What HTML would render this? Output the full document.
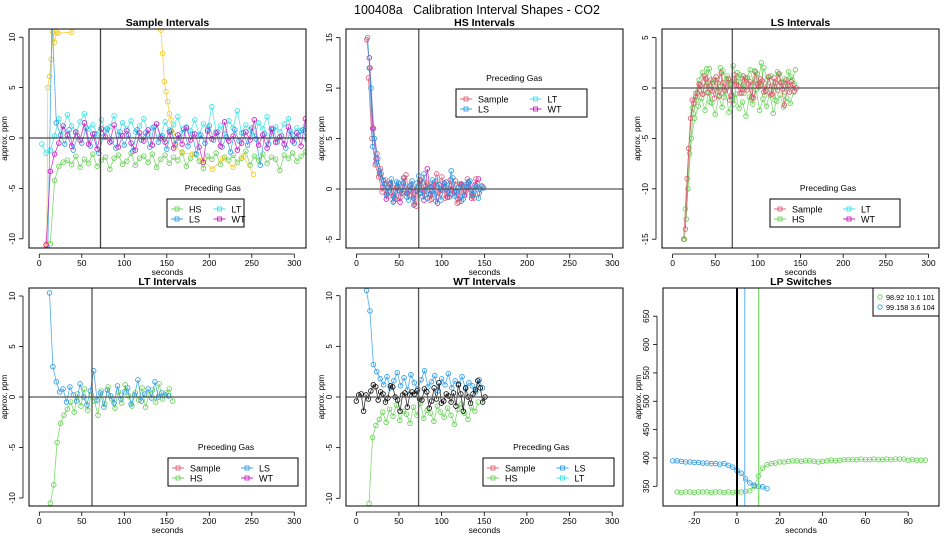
<!DOCTYPE html>
<html><head><meta charset="utf-8">
<style>
html,body{margin:0;padding:0;background:#fff;}
svg{display:block;font-family:"Liberation Sans",Arial,sans-serif;}
</style></head>
<body>
<svg id="chart" width="950" height="550" viewBox="0 0 950 550" xmlns="http://www.w3.org/2000/svg">
<text x="477" y="14" font-size="12.5" text-anchor="middle" style="white-space:pre">100408a   Calibration Interval Shapes - CO2</text>
</svg>
<script>
// ---------- data ----------
// Sample Intervals panel
const sHS_t0 = 13, sHS_step = 5;
const sHS = [-10.5,-4.2,-2.8,-2.4,-2.2,-2.6,-1.8,-2.9,-2.1,-2.5,-1.6,-2.8,-2.2,-1.9,-3.1,-2.0,-1.7,-2.6,-2.3,-1.5,-2.7,-2.0,-1.8,-2.4,-1.6,-2.9,-2.1,-1.7,-2.5,-1.9,-2.2,-1.4,-2.8,-2.0,-1.6,-2.3,-3.0,-1.8,-2.1,-1.5,-2.6,-1.9,-2.2,-1.7,-2.4,-2.0,-1.3,-2.7,-1.8,-2.2,-1.6,-2.5,-1.9,-2.1,-3.2,-1.7,-2.0,-1.5,-2.3,-1.8,-1.4];
const sLS_t0 = 10, sLS_step = 5;
const sLS = [-11,12,1.5,0.3,-0.6,0.8,-1.2,0.2,-0.5,1.0,-0.8,0.4,-1.5,0.1,0.9,-0.3,-1.0,0.6,-0.7,0.3,-1.3,0.8,-0.2,0.5,-0.9,1.1,-0.4,0.2,-1.1,0.7,-0.6,0.0,0.9,-0.8,0.4,-1.6,0.3,-0.5,1.2,-0.2,0.6,-0.9,0.1,-1.4,0.8,-0.3,0.5,-0.7,1.0,-0.1,-2.7,0.4,-0.6,0.9,-0.4,0.2,-1.0,0.7,-0.5,0.3,0.8,-0.2,0.6];
const sLT_t0 = 3, sLT_step = 5;
const sLT = [-0.6,-1.5,-1.2,0.2,1.9,0.8,2.3,1.2,0.5,1.6,2.4,0.9,1.3,0.4,1.8,0.7,1.1,2.2,0.3,1.5,0.9,1.7,0.6,1.2,1.9,0.4,1.0,1.4,0.2,1.6,0.8,1.3,2.1,0.5,1.1,0.7,1.8,0.3,1.4,0.9,3.1,0.6,1.2,0.4,1.7,1.0,2.7,0.5,1.3,0.8,0.2,1.5,0.9,2.1,0.4,1.1,0.6,1.4,1.9,0.3,1.0,0.7,1.2];
const sWT_t0 = 8, sWT_step = 5;
const sWT = [-10.6,-3.3,-1.6,-0.5,1.2,0.3,-0.8,0.6,-0.2,1.5,-0.6,0.4,-1.1,0.9,0.1,-0.4,1.3,-0.9,0.2,0.7,-0.5,-1.2,0.5,-0.3,0.8,-0.7,1.4,0.0,-0.4,0.6,-1.0,0.3,-0.6,1.0,-0.2,0.4,-0.9,-2.4,0.7,-0.1,0.5,-0.8,1.6,-0.3,0.2,-1.2,-0.5,0.6,-0.2,1.8,-0.7,0.3,-1.0,0.9,-0.4,0.1,-0.6,1.1,-0.3,0.5,-0.8,1.9];
const sSampleT = [7,9,10,12,14,16,18,20,22,38,50,130,143,145,147,149,151,153,155,157,160,168,180,192,204,216,228,240,252];
const sSampleV = [-11,-10.5,5,6.1,7.8,10.5,9.5,10.5,10.4,10.5,15,15,10.7,8.4,5.6,4.6,3.6,2.4,1.8,0.5,-0.8,-1.5,-1.6,-2.2,-3.1,-2.0,-2.9,-1.8,-3.6];
// HS Intervals panel
const hSample = [14.8,12,6,3.5,2,0.8,-0.5,0.6,-1.2,0.3,-0.8,1.1,-0.4,0.5,-1.5,0.2,0.9,-0.6,0.4,-1.0,0.7,-0.3,1.2,-0.9,0.1,-0.5,0.8,-1.3,0.4,-0.2,0.6,-0.7,1.0,-0.4,0.2];
const hLS = [15,10,5,3,1.5,0.5,-0.3,1.0,-0.9,0.6,-0.4,0.2,-1.1,0.8,-0.2,1.3,-0.7,0.3,-0.5,0.9,-1.2,0.4,-0.1,0.7,-0.8,1.1,-0.3,0.5,-1.0,0.2,0.8,-0.6,0.3,0.0,0.1];
const hLS2 = [12,4.2,2.6,1.8,0.9,-0.6,0.4,-1.3,0.7,-0.2,1.1,-0.8,0.3,-1.6,0.6,-0.4,1.5,-0.9,0.2,-0.5,0.8,-1.1,0.5,-0.3,1.8,-0.7,0.1,-1.2,0.4,0.7,-0.5,0.2,-0.9,0.3];
const hSample2 = [11,5,2.4,1.2,-0.3,0.9,-0.7,0.2,-1.0,0.5,-0.4,1.4,-0.6,0.1,-1.7,0.8,-0.2,0.6,-1.1,0.3,1.5,-0.5,0.2,-0.8,0.9,-0.3,-1.4,0.4,-0.6,1.0,-0.1,-0.9,0.5];
const hWT = [13,6,3,1.5,0.2,-1.0,0.5,-0.7,0.1,-1.3,0.6,-0.4,0.3,-0.9,-0.2,0.8,-1.1,2.0,-0.5,0.4,-1.4,0.0,0.6,-0.8,0.3,-0.3,-1.0,0.5,-0.6,0.2,-0.9,0.4,1.0];
// LS Intervals panel
const lSample = [-15,-9,-3,-1.5,-0.5,0.3,1.2,-0.4,0.8,-1.0,0.5,1.5,-0.2,0.9,-0.7,1.3,0.2,-0.5,1.0,0.4,-0.9,1.6,0.1,0.7,-0.3,1.1,-0.6,0.5,1.4,-0.1,0.8,-0.4,0.3,0.0];
const lSample2 = [-14,-6,-1.2,-0.9,0.4,-0.6,0.9,0.2,-0.3,1.1,-0.8,0.5,0.0,-1.2,0.7,0.3,-0.5,1.2,-0.2,0.6,-1.0,0.4,0.9,-0.4,0.2,-0.7,1.0,-0.2,0.5,-1.7,0.3,0.6,-0.3];
const lHS = [-15,-10,-5,-3,-1.8,-1.0,-2.2,-0.5,-1.5,-2.6,-0.8,-1.9,-0.3,-2.4,-1.2,-0.6,-2.0,-1.4,-2.8,-0.9,-1.6,-0.2,-2.2,-1.1,-1.8,-0.5,-2.5,-1.3,-0.7,-1.9,-1.0,-1.5,-0.4];
const lHS2 = [-13,-6.5,-2.5,-1.2,0.2,-0.6,1.9,-1.4,0.8,-0.3,2.0,-0.9,1.2,0.4,-1.6,1.5,0.6,-0.5,1.0,-1.1,1.7,0.3,2.5,-0.7,1.1,0.2,-1.2,1.4,0.5,-0.4,1.6,0.8,1.8];
const lLT = [-12,-6,-2,-0.5,0.8,1.5,0.2,1.9,0.6,1.1,-0.3,1.7,0.9,0.4,2.2,0.7,1.3,-0.1,1.0,1.8,0.5,1.4,0.3,2.0,0.8,1.2,0.1,1.6,0.6,0.9,0.2,1.1,0.4];
// LT Intervals panel
const tLS = [10.3,3,1.5,0.5,0.8,-0.5,1.0,0.2,-0.4,1.3,0.0,-0.8,0.6,2.6,-0.3,0.4,-1.0,0.7,0.1,-0.6,1.1,-0.2,0.5,0.9,-0.7,0.2,1.7,-0.4,0.3,0.8,-0.1,1.5,0.0,0.4,0.2,0.1];
const tHS = [-10.5,-8.7,-4.5,-2.6,-1.8,-1.2,-0.5,-1.5,0.3,-0.9,0.8,-1.3,0.2,-0.4,-1.8,0.6,-0.7,1.0,-0.2,-1.1,0.5,-0.6,1.2,0.1,-0.9,0.4,-0.3,0.9,-1.0,0.2,0.7,-0.5,1.3,-0.2,0.4,0.8,-0.4];
// WT Intervals panel
const wLS = [10.5,8.5,3.2,2.5,1.8,1.2,2.0,0.9,1.6,2.4,1.1,1.9,0.7,2.2,1.4,0.8,1.7,2.6,1.0,1.5,2.1,0.6,1.8,1.2,2.3,0.9,1.6,1.3,2.0,0.8,1.4,1.1,0.5,1.7,0.9];
const wHS = [-10.5,-4,-2.8,-2.2,-1.5,-2.5,-1.2,-1.9,-0.8,-2.3,-1.4,-1.7,-2.6,-1.0,-1.8,-0.6,-2.1,-1.3,-1.6,-2.4,-0.9,-1.5,-2.0,-1.1,-1.8,-2.7,-1.2,-0.7,-1.6,-2.2,-1.0,-1.4,-0.5];
const wSample = [-0.4,0.2,0.3,-1.4,0.2,-0.2,0.6,1.2,1.0,-0.3,0.5,0.3,-0.5,-0.1,1.1,1.0,0.0,-0.3,-1.4,0.2,0.4,-1.0,0.2,0.5,0.3,0.6,-0.2,-0.3,0.8,0.5,-1.1,-0.4,0.9,-0.2,1.4,-0.6,-0.4,0.3,0.1,-0.5,0.4,-0.9,1.2,0.3,-1.4,0.9,0.0,-0.6,0.3,0.7,1.6,0.9,-0.5,0.0];
// LP Switches panel
const lpGreenT0 = -28, lpGreenStep = 2;
const lpGreen = [340,339,340,340,339,340,340,340,339,340,340,339,340,339,340,340,341,342,350,368,382,388,390,391,393,393,394,395,395,394,395,395,394,393,394,395,396,395,396,397,397,397,397,398,397,397,398,397,397,398,397,398,398,398,396,397,396,396,396];
const lpBlueT0 = -30, lpBlueStep = 2;
const lpBlue = [395,395,394,393,393,392,392,391,391,390,390,389,390,387,384,378,373,363,356,352,350,349,346];
const xTicks = [0,50,100,150,200,250,300];
const lpXTicks = [-20,0,20,40,60,80];
const lpYTicks = [350,400,450,500,550,600,650];
const legendP1 = ["HS","LT","LS","WT"];
const lpLegend = ["98.92 10.1 101","99.158 3.6 104"];

// ---------- rendering ----------
const C = {green:"#61D04F",blue:"#2297E6",cyan:"#28E2E5",mag:"#CD0BBC",red:"#DF536B",yel:"#F5C710",black:"#000"};
const svg = document.getElementById('chart');
const NS = "http://www.w3.org/2000/svg";
function mk(tag, attrs, parent){const e=document.createElementNS(NS,tag);for(const k in attrs)e.setAttribute(k,attrs[k]);(parent||svg).appendChild(e);return e;}

function panel(p){
  const g = mk('g',{});
  
  
  const X = v => p.x0 + (v - p.xr) * p.xs;
  const Y = v => p.y0 - (v - p.yr) * p.ys;
  p.X = X; p.Y = Y;
  const b = p.box;
  const cid = 'clip-' + p.name;
  const cp = mk('clipPath',{id:cid},g);
  mk('rect',{x:b[0],y:b[1],width:b[2]-b[0],height:b[3]-b[1]},cp);
  const plot = mk('g',{'clip-path':'url(#'+cid+')'},g);
  
  
  p.plot = plot;
  const t = mk('text',{x:(b[0]+b[2])/2,y:b[1]-3,'font-size':10.5,'font-weight':'bold','text-anchor':'middle'},g);
  t.textContent = p.title;
  
  
  const bx = mk('rect',{x:b[0],y:b[1],width:b[2]-b[0],height:b[3]-b[1],fill:'none',stroke:'#000','stroke-width':1},g);
  
  
  const xa = mk('g',{},g);
  
  
  const xt = p.xticks;
  mk('line',{x1:X(xt[0]),x2:X(xt[xt.length-1]),y1:b[3]+6,y2:b[3]+6,stroke:'#000','stroke-width':0.8},xa);
  xt.forEach(v=>{
    mk('line',{x1:X(v),x2:X(v),y1:b[3]+6,y2:b[3]+10,stroke:'#000','stroke-width':0.8},xa);
    const tx = mk('text',{x:X(v),y:b[3]+18,'font-size':8.5,'text-anchor':'middle'},xa);
    tx.textContent = v;
    
    
  });
  const xl = mk('text',{x:(b[0]+b[2])/2,y:b[3]+27,'font-size':8.5,'text-anchor':'middle'},g);
  xl.textContent = 'seconds';
  
  
  const ya = mk('g',{},g);
  
  
  const yt = p.yticks;
  const ax = b[0]-6;
  mk('line',{x1:ax,x2:ax,y1:Y(yt[0]),y2:Y(yt[yt.length-1]),stroke:'#000','stroke-width':0.8},ya);
  yt.forEach(v=>{
    mk('line',{x1:ax-4,x2:ax,y1:Y(v),y2:Y(v),stroke:'#000','stroke-width':0.8},ya);
    const ty = mk('text',{x:0,y:0,'font-size':8,'text-anchor':'middle',transform:'translate('+(b[0]-14)+','+Y(v)+') rotate(-90)'},ya);
    ty.textContent = v;
    
    
  });
  const yl = mk('text',{x:0,y:0,'font-size':8,'text-anchor':'middle',transform:'translate('+(b[0]-22)+','+((b[1]+b[3])/2)+') rotate(-90)'},g);
  yl.textContent = 'approx. ppm';
  
  
  return p;
}
function refLines(p, vx, hzero, col, w){
  const l1 = mk('line',{x1:p.X(vx),x2:p.X(vx),y1:p.box[1],y2:p.box[3],stroke:col||'#555','stroke-width':w||1.3},p.plot);
  
  
  if(hzero){
    const l2 = mk('line',{x1:p.box[0],x2:p.box[2],y1:p.Y(0),y2:p.Y(0),stroke:col||'#555','stroke-width':1.3},p.plot);
    
    
  }
}
function series(p, ts, vs, color, name, noLine){
  const g = mk('g',{},p.plot);
  
  
  if(!noLine){
    const pts = vs.map((v,i)=>p.X(ts[i]).toFixed(1)+','+p.Y(v).toFixed(1)).join(' ');
    mk('polyline',{points:pts,fill:'none',stroke:color,'stroke-width':0.8,'stroke-opacity':0.8},g);
  }
  vs.forEach((v,i)=>{
    const c = mk('circle',{cx:p.X(ts[i]),cy:p.Y(v),r:2.3,fill:'none',stroke:color,'stroke-width':0.8},g);
    
    
  });
}
function regular(t0, step, n){const a=[];for(let i=0;i<n;i++)a.push(t0+i*step);return a;}
function legend(p, x, y, labels, colors, w){
  const g = mk('g',{},svg);
  
  
  const tt = mk('text',{x:x+w*0.23,y:y-8,'font-size':8.5,'text-anchor':'start'},g);
  tt.textContent = 'Preceding Gas';
  
  
  mk('rect',{x:x,y:y,width:w,height:28,fill:'#fff',stroke:'#000','stroke-width':1},g);
  labels.forEach((lb,i)=>{
    const col = i%2, row = Math.floor(i/2);
    const sx = x + 4 + col*(w/2+4), sy = y + 10 + row*10;
    const e = mk('g',{},g);
    
    
    mk('line',{x1:sx,x2:sx+12,y1:sy,y2:sy,stroke:colors[i],'stroke-width':0.9},e);
    mk('rect',{x:sx+4,y:sy-2,width:4,height:4,fill:'none',stroke:colors[i],'stroke-width':0.8},e);
    const t = mk('text',{x:sx+18,y:sy+3.5,'font-size':9},e);
    t.textContent = lb;
  });
}

// Panel 1: Sample
const P1 = panel({name:'sample-intervals',title:'Sample Intervals',box:[29,29,306,248],x0:39.3,xr:0,xs:0.85,y0:138,yr:0,ys:10.08,xticks:xTicks,yticks:[-10,-5,0,5,10]});
series(P1, regular(sLT_t0,sLT_step,sLT.length), sLT, C.cyan, 'lt-series');
series(P1, regular(sHS_t0,sHS_step,sHS.length), sHS, C.green, 'hs-series');
series(P1, sSampleT, sSampleV, C.yel, 'sample-series');
series(P1, regular(sLS_t0,sLS_step,sLS.length), sLS, C.blue, 'ls-series');
series(P1, regular(sWT_t0,sWT_step,sWT.length), sWT, C.mag, 'wt-series');
refLines(P1, 72, true, '#444');
legend(P1, 167, 199, legendP1, [C.green,C.cyan,C.blue,C.mag], 77);

// Panel 2: HS
const P2 = panel({name:'hs-intervals',title:'HS Intervals',box:[346,29,623,248],x0:356.5,xr:0,xs:0.853,y0:189,yr:0,ys:10.09,xticks:xTicks,yticks:[-5,0,5,10,15]});
series(P2, regular(15,4,hWT.length), hWT, C.mag, 'wt-series');
series(P2, regular(12,4,hSample.length), hSample, C.red, 'sample-series');
series(P2, regular(14,4,hSample2.length), hSample2, C.red, 'sample-series-2');
series(P2, regular(13,4,hLS.length), hLS, C.blue, 'ls-series');
series(P2, regular(15,4,hLS2.length), hLS2, C.blue, 'ls-series-2');
refLines(P2, 73, true, '#555');
legend(P2, 456, 89, ["Sample","LT","LS","WT"], [C.red,C.cyan,C.blue,C.mag], 131);

// Panel 3: LS
const P3 = panel({name:'ls-intervals',title:'LS Intervals',box:[662,29,939,248],x0:672.6,xr:0,xs:0.853,y0:88,yr:0,ys:10.08,xticks:xTicks,yticks:[-15,-10,-5,0,5]});
series(P3, regular(15,4,lLT.length), lLT, C.green, 'lt-series');
series(P3, regular(14,4,lHS.length), lHS, C.green, 'hs-series');
series(P3, regular(16,4,lHS2.length), lHS2, C.green, 'hs-series-2');
series(P3, regular(13,4,lSample.length), lSample, C.red, 'sample-series');
series(P3, regular(15,4,lSample2.length), lSample2, C.red, 'sample-series-2');
refLines(P3, 70, true, '#555');
legend(P3, 770, 199, ["Sample","LT","HS","WT"], [C.red,C.cyan,C.green,C.mag], 130);

// Panel 4: LT
const P4 = panel({name:'lt-intervals',title:'LT Intervals',box:[29,288,306,506],x0:39.3,xr:0,xs:0.85,y0:397,yr:0,ys:10.1,xticks:xTicks,yticks:[-10,-5,0,5,10]});
series(P4, regular(13,4,tHS.length), tHS, C.green, 'hs-series');
series(P4, regular(12,4,tLS.length), tLS, C.blue, 'ls-series');
refLines(P4, 62, true, '#555');
legend(P4, 168, 458, ["Sample","LS","HS","WT"], [C.red,C.blue,C.green,C.mag], 130);

// Panel 5: WT
const P5 = panel({name:'wt-intervals',title:'WT Intervals',box:[346,288,623,506],x0:356.3,xr:0,xs:0.853,y0:397,yr:0,ys:10.13,xticks:xTicks,yticks:[-10,-5,0,5,10]});
series(P5, regular(15,4,wHS.length), wHS, C.green, 'hs-series');
series(P5, regular(12,4,wLS.length), wLS, C.blue, 'ls-series');
series(P5, regular(0,2.85,wSample.length), wSample, C.black, 'sample-series');
refLines(P5, 73, true, '#555');
legend(P5, 483, 458, ["Sample","LS","HS","LT"], [C.red,C.blue,C.green,C.cyan], 131);

// Panel 6: LP Switches
const P6 = panel({name:'lp-switches',title:'LP Switches',box:[663,288,939,506],x0:737,xr:0,xs:2.14,y0:486.3,yr:350,ys:0.567,xticks:lpXTicks,yticks:lpYTicks});
series(P6, regular(lpGreenT0,lpGreenStep,lpGreen.length), lpGreen, C.green, 'lp-green-series');
series(P6, regular(lpBlueT0,lpBlueStep,lpBlue.length), lpBlue, C.blue, 'lp-blue-series');
refLines(P6, 0, false, '#000', 2);
refLines(P6, 3.6, false, '#7fc4f0');
refLines(P6, 10.1, false, '#7fe070');
(function(){
  const g = mk('g',{},svg);
  
  
  mk('rect',{x:873,y:288,width:66,height:28,fill:'#fff',stroke:'#000','stroke-width':1},g);
  const cols=[C.green,C.blue];
  lpLegend.forEach((lb,i)=>{
    const e = mk('g',{},g);
    
    
    mk('circle',{cx:880,cy:297+i*10,r:2.2,fill:'none',stroke:cols[i],'stroke-width':0.8},e);
    const t = mk('text',{x:886,y:300+i*10,'font-size':7.3},e);
    t.textContent = lb;
  });
})();
</script>
</body></html>
